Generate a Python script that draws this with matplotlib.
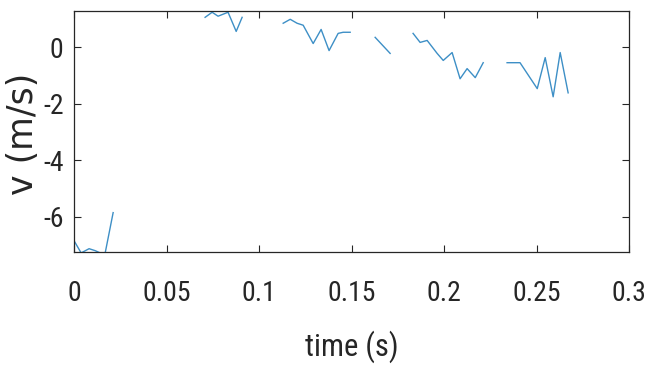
"""Velocity trace over time, drawn with gaps where the signal dropped out."""

import numpy as np
import matplotlib

matplotlib.use("Agg")
import matplotlib.pyplot as plt

nan = np.nan

# time (s) and velocity (m/s); NaN marks a break in the trace
time_s = [
    0.0, 0.0038, 0.0081, 0.0114, 0.0141, 0.0168, 0.0211, nan,
    0.0708, 0.0746, 0.0778, 0.0832, 0.0876, 0.0908, nan,
    0.1130, 0.1168, 0.1205, 0.1238, 0.1292, 0.1335, 0.1378, 0.1427, 0.1454, 0.1492, nan,
    0.1627, 0.1708, nan,
    0.1832, 0.1870, 0.1908, 0.1962, 0.1995, 0.2043, 0.2086, 0.2124, 0.2168, 0.2211, nan,
    0.2340, 0.2410, 0.2503, 0.2546, 0.2589, 0.2627, 0.2670,
]
velocity = [
    -6.86, -7.29, -7.14, -7.21, -7.29, -7.29, -5.86, nan,
    1.07, 1.25, 1.11, 1.25, 0.57, 1.07, nan,
    0.86, 1.00, 0.86, 0.79, 0.14, 0.64, -0.11, 0.50, 0.54, 0.54, nan,
    0.36, -0.21, nan,
    0.50, 0.18, 0.25, -0.21, -0.46, -0.18, -1.11, -0.75, -1.07, -0.54, nan,
    -0.54, -0.54, -1.46, -0.36, -1.75, -0.18, -1.61,
]

xticks = [0, 0.05, 0.1, 0.15, 0.2, 0.25, 0.3]
xtick_labels = ["0", "0.05", "0.1", "0.15", "0.2", "0.25", "0.3"]
yticks = [-6, -4, -2, 0]
ytick_labels = ["-6", "-4", "-2", "0"]

narrow = ["Roboto Condensed", "Liberation Sans", "DejaVu Sans"]
axis_grey = "#262626"

fig = plt.figure(figsize=(6.5, 3.74), dpi=100)
ax = fig.add_axes([0.114, 0.326, 0.854, 0.645])

ax.plot(time_s, velocity, color="#3d8fc6", linewidth=1.0)

ax.set_xlim(0, 0.3)
ax.set_ylim(-7.26, 1.3)
ax.set_xticks(xticks)
ax.set_xticklabels(xtick_labels, family=narrow, fontsize=20)
ax.set_yticks(yticks)
ax.set_yticklabels(ytick_labels, family=narrow, fontsize=20)

ax.tick_params(direction="in", length=5, width=0.8, colors=axis_grey,
               top=True, right=True)
ax.tick_params(axis="x", pad=20)
ax.tick_params(axis="y", pad=7.5)
for side in ax.spines.values():
    side.set_color(axis_grey)
    side.set_linewidth(0.9)

ax.set_xlabel("time (s)", family=narrow, fontsize=22, color=axis_grey)
ax.xaxis.set_label_coords(0.5, -0.324)
ax.set_ylabel("v (m/s)", family=["DejaVu Sans"], fontsize=25, color=axis_grey)
ax.yaxis.set_label_coords(-0.061, 0.49)

fig.savefig("out.png", dpi=100)
